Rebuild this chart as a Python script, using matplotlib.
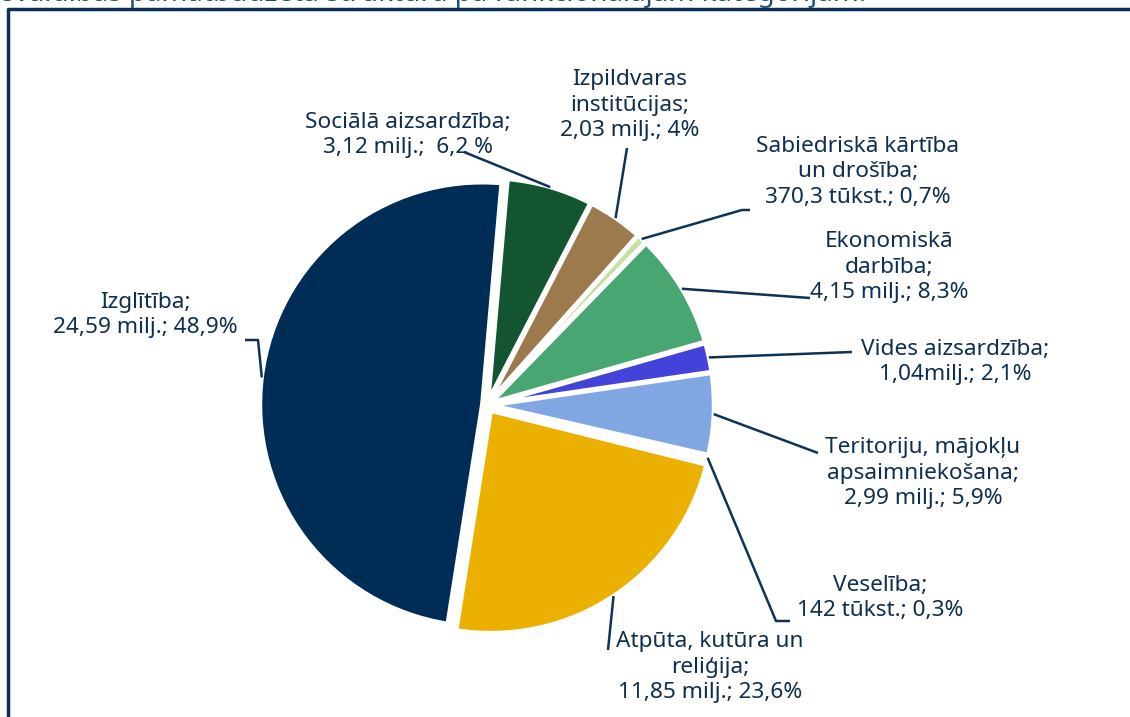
import matplotlib
matplotlib.use("Agg")
import matplotlib.pyplot as plt
import numpy as np

# Dati: pamatbudžeta struktūra pa funkcionālajām kategorijām
kategorijas = ["Izglītība", "Atpūta, kutūra un reliģija", "Veselība",
               "Teritoriju, mājokļu apsaimniekošana", "Vides aizsardzība",
               "Ekonomiskā darbība", "Sabiedriskā kārtība un drošība",
               "Izpildvaras institūcijas", "Sociālā aizsardzība"]
procenti = [48.9, 23.6, 0.3, 5.9, 2.1, 8.3, 0.7, 4.0, 6.2]
etiketes = [
    "Izglītība;\n24,59 milj.; 48,9%",
    "Atpūta, kutūra un\nreliģija;\n11,85 milj.; 23,6%",
    "Veselība;\n142 tūkst.; 0,3%",
    "Teritoriju, mājokļu\napsaimniekošana;\n2,99 milj.; 5,9%",
    "Vides aizsardzība;\n1,04milj.; 2,1%",
    "Ekonomiskā\ndarbība;\n4,15 milj.; 8,3%",
    "Sabiedriskā kārtība\nun drošība;\n370,3 tūkst.; 0,7%",
    "Izpildvaras\ninstitūcijas;\n2,03 milj.; 4%",
    "Sociālā aizsardzība;\n3,12 milj.;  6,2 %",
]
krasas = ["#002D55", "#EBB000", "#9FC07A", "#80A7E2", "#4343D9",
          "#48A672", "#C6DFA2", "#9C7A4E", "#145531"]

W, H = 1130, 717
teksta_krasa = "#0E2F52"
linijas_krasa = "#0D3358"

plt.rcParams['font.family'] = ['Noto Sans', 'DejaVu Sans']


def P(x, y):
    # pikseļi (no augšas) -> asu koordinātas
    return x, H - y


fig = plt.figure(figsize=(W / 100, H / 100), dpi=100)
ax = fig.add_axes([0, 0, 1, 1])

cx, cy = P(487, 405)
r = 222
izvirzijums = [0.022, 0.032, 0.022, 0.022, 0.022, 0.022, 0.022, 0.022, 0.022]
wedges, _ = ax.pie(procenti, colors=krasas, startangle=85, counterclock=True,
                   explode=[e * r for e in izvirzijums], center=(cx, cy),
                   radius=r, frame=True,
                   wedgeprops=dict(edgecolor="white", linewidth=3))
ax.set_xlim(0, W)
ax.set_ylim(0, H)
ax.set_aspect("equal")
ax.axis("off")

# etiķešu novietojums (teksta centrs) un līniju lūzuma punkti, pikseļos
teksta_pos = [(145, 315), (710, 667), (880, 598), (923, 473), (955, 362),
              (889, 267), (858, 172), (630, 105), (408, 135)]
lauzumi = [
    [(245, 340), (258, 340)],
    [(608, 650)],
    [(790, 621), (776, 621)],
    [(818, 453)],
    [(852, 352)],
    [(810, 298)],
    [(750, 210), (742, 210)],
    [(627, 148)],
    [(464, 152)],
]

for w, txt, tp, lz in zip(wedges, etiketes, teksta_pos, lauzumi):
    ax.text(*P(*tp), txt, ha="center", va="center", fontsize=16.3,
            color=teksta_krasa, linespacing=1.27)
    th = np.deg2rad((w.theta1 + w.theta2) / 2)
    wx, wy = w.center
    ax_pt = (wx + w.r * np.cos(th), wy + w.r * np.sin(th))
    pts = [P(*p) for p in lz] + [ax_pt]
    xs, ys = zip(*pts)
    ax.plot(xs, ys, color=linijas_krasa, lw=1.8, solid_capstyle="butt")

# rāmis
ax.plot([8, 8, W], [0, H - 9, H - 9], color="#0D2F55", lw=2.5, clip_on=False)

# virsraksts (daļēji nogriezts augšā)
ax.text(866, H - 1, "Pašvaldības pamatbudžeta struktūra pa funkcionālajām kategorijām.",
        ha="right", va="baseline", fontsize=20, color="#1F4E79")

fig.savefig("out.png", dpi=100)
